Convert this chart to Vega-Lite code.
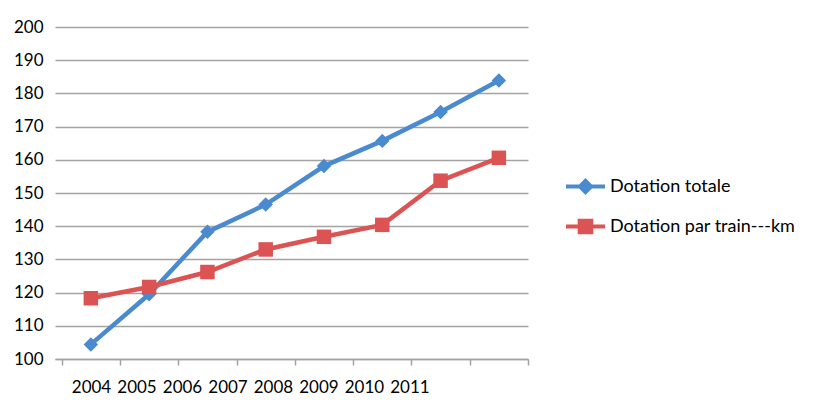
{
  "$schema": "https://vega.github.io/schema/vega-lite/v6.json",
  "description": "Dotation totale vs dotation par train-km, 2004-2011",
  "width": 473,
  "height": 332,
  "autosize": {"type": "none"},
  "padding": {"left": 55, "top": 27, "right": 289, "bottom": 50},
  "background": "white",
  "data": {
    "values": [
      {"year": 2004, "series": "Dotation totale", "value": 104.4},
      {"year": 2005, "series": "Dotation totale", "value": 119.5},
      {"year": 2006, "series": "Dotation totale", "value": 138.3},
      {"year": 2007, "series": "Dotation totale", "value": 146.5},
      {"year": 2008, "series": "Dotation totale", "value": 158.1},
      {"year": 2009, "series": "Dotation totale", "value": 165.7},
      {"year": 2010, "series": "Dotation totale", "value": 174.4},
      {"year": 2011, "series": "Dotation totale", "value": 183.9},
      {"year": 2004, "series": "Dotation par train---km", "value": 118.3},
      {"year": 2005, "series": "Dotation par train---km", "value": 121.7},
      {"year": 2006, "series": "Dotation par train---km", "value": 126.2},
      {"year": 2007, "series": "Dotation par train---km", "value": 133.0},
      {"year": 2008, "series": "Dotation par train---km", "value": 136.8},
      {"year": 2009, "series": "Dotation par train---km", "value": 140.4},
      {"year": 2010, "series": "Dotation par train---km", "value": 153.7},
      {"year": 2011, "series": "Dotation par train---km", "value": 160.6}
    ]
  },
  "encoding": {
    "y": {
      "field": "value",
      "type": "quantitative",
      "scale": {"domain": [100, 200], "nice": false, "zero": false},
      "axis": {
        "title": null,
        "values": [100, 110, 120, 130, 140, 150, 160, 170, 180, 190, 200],
        "labelOverlap": false,
        "domain": false,
        "ticks": false,
        "grid": true,
        "gridColor": "#a3a3a3",
        "gridWidth": 1.5,
        "labelPadding": 12
      }
    }
  },
  "layer": [
    {
      "mark": {"type": "point", "filled": true, "opacity": 0},
      "encoding": {
        "x": {
          "field": "year",
          "type": "quantitative",
          "scale": {"domain": [2003.385, 2011.5], "nice": false, "zero": false},
          "axis": {
            "orient": "bottom",
            "title": null,
            "values": [2003.5, 2004.5, 2005.5, 2006.5, 2007.5, 2008.5, 2009.5, 2010.5, 2011.5],
            "labels": false,
            "grid": false,
            "ticks": true,
            "tickSize": 6,
            "tickColor": "#a3a3a3",
            "tickWidth": 1.5,
            "domainColor": "#a3a3a3",
            "domainWidth": 1.5
          }
        },
        "color": {
          "field": "series",
          "type": "nominal",
          "scale": {
            "domain": ["Dotation totale", "Dotation par train---km"],
            "range": ["#4a8bd0", "#db5352"]
          },
          "legend": {
            "title": null,
            "orient": "none",
            "legendX": 511,
            "legendY": 140,
            "padding": 0,
            "rowPadding": 11,
            "symbolSize": 1521,
            "symbolOpacity": 1,
            "symbolStrokeWidth": 0,
            "labelOffset": 5,
            "labelLimit": 0
          }
        },
        "shape": {
          "field": "series",
          "type": "nominal",
          "scale": {
            "domain": ["Dotation totale", "Dotation par train---km"],
            "range": [
              "M-1,-0.1H1V0.1H-1Z M0,-0.43L0.43,0L0,0.43L-0.43,0Z",
              "M-1,-0.1H1V0.1H-1Z M-0.4,-0.4H0.4V0.4H-0.4Z"
            ]
          },
          "legend": {
            "title": null,
            "orient": "none",
            "legendX": 511,
            "legendY": 140,
            "padding": 0,
            "rowPadding": 11,
            "symbolSize": 1521,
            "symbolOpacity": 1,
            "symbolStrokeWidth": 0,
            "labelOffset": 5,
            "labelLimit": 0
          }
        }
      }
    },
    {
      "transform": [{"filter": "datum.series === 'Dotation totale'"}],
      "layer": [
        {"mark": {"type": "line", "strokeWidth": 4.5, "color": "#4a8bd0"}},
        {"mark": {"type": "point", "shape": "diamond", "filled": true, "opacity": 1, "size": 210, "color": "#4a8bd0"}}
      ],
      "encoding": {
        "x": {
          "field": "year",
          "type": "quantitative",
          "scale": {"domain": [2003.385, 2011.5], "nice": false, "zero": false},
          "axis": null
        }
      }
    },
    {
      "transform": [{"filter": "datum.series !== 'Dotation totale'"}],
      "layer": [
        {"mark": {"type": "line", "strokeWidth": 4.5, "color": "#db5352"}},
        {"mark": {"type": "point", "shape": "square", "filled": true, "opacity": 1, "size": 210, "color": "#db5352"}}
      ],
      "encoding": {
        "x": {
          "field": "year",
          "type": "quantitative",
          "scale": {"domain": [2003.385, 2011.5], "nice": false, "zero": false},
          "axis": null
        }
      }
    },
    {
      "mark": {"type": "point", "opacity": 0},
      "encoding": {
        "x": {
          "field": "year",
          "type": "quantitative",
          "scale": {"domain": [2003.209, 2013.605], "nice": false, "zero": false},
          "axis": {
            "orient": "bottom",
            "title": null,
            "values": [2004, 2005, 2006, 2007, 2008, 2009, 2010, 2011],
            "format": "d",
            "labelOverlap": false,
            "labelBound": false,
            "ticks": false,
            "tickSize": 0,
            "domain": false,
            "grid": false,
            "labelPadding": 20
          }
        }
      }
    }
  ],
  "resolve": {"scale": {"x": "independent"}, "axis": {"x": "independent"}},
  "config": {
    "font": "Lato",
    "view": {"stroke": null},
    "axis": {"labelFont": "Lato", "labelFontSize": 17, "labelColor": "#000000"},
    "legend": {"labelFont": "Lato", "labelFontSize": 18, "labelColor": "#000000"}
  }
}
